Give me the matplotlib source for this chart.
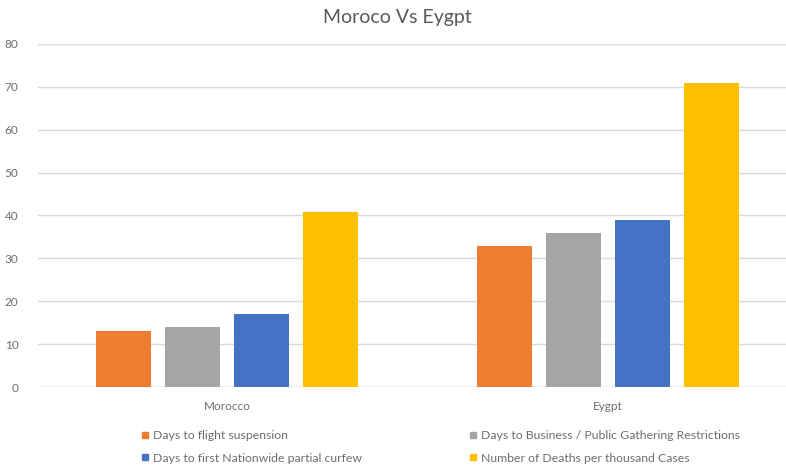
import matplotlib
matplotlib.use("Agg")
import matplotlib.pyplot as plt
from matplotlib.lines import Line2D
import numpy as np

plt.rcParams['font.family'] = ['Lato', 'DejaVu Sans']

countries = ["Morocco", "Eygpt"]
series_names = [
    "Days to flight suspension",
    "Days to Business / Public Gathering Restrictions",
    "Days to first Nationwide partial curfew",
    "Number of Deaths per thousand Cases",
]
flight_suspension = [13, 33]
business_restrictions = [14, 36]
partial_curfew = [17, 39]
deaths_per_thousand = [40.7, 71]
colors = ["#ED7D31", "#A5A5A5", "#4472C4", "#FFC000"]
y_ticks = [0, 10, 20, 30, 40, 50, 60, 70, 80]

series = [flight_suspension, business_restrictions, partial_curfew, deaths_per_thousand]

fig = plt.figure(figsize=(7.86, 4.70), dpi=100)
ax = fig.add_axes([38 / 786, 83 / 470, 748 / 786, 343 / 470])

x = np.arange(len(countries))
bar_w = 0.144
step = 0.181
offsets = (np.arange(4) - 1.5) * step
for vals, off, col in zip(series, offsets, colors):
    ax.bar(x + off, vals, width=bar_w, color=col, zorder=3)

ax.set_xlim(-0.496, 1.467)
ax.set_ylim(0, 80)
ax.set_yticks(y_ticks)
ax.yaxis.grid(True, color="#D9D9D9", linewidth=1.0, zorder=0)
ax.set_axisbelow(True)
for s in ax.spines.values():
    s.set_visible(False)
ax.axhline(0, color="#D0D0D0", linewidth=1.0, zorder=1)
ax.set_xticks(x)
ax.set_xticklabels(countries)
ax.tick_params(axis="both", length=0, labelsize=8.5, labelcolor="#6E6E6E")
ax.tick_params(axis="x", pad=10)
ax.tick_params(axis="y", pad=14)

fig.text(397 / 786, 1 - 18 / 470, "Moroco Vs Eygpt", ha="center", va="center",
         fontsize=14, color="#595959")

def handle(col):
    return Line2D([], [], marker="s", linestyle="none", markersize=5,
                  markerfacecolor=col, markeredgecolor=col)

leg_kw = dict(frameon=False, fontsize=8.8, labelcolor="#6E6E6E", handlelength=0.7,
              handletextpad=0.3, labelspacing=0.95, borderpad=0, borderaxespad=0)
fig.legend([handle(colors[0]), handle(colors[2])], [series_names[0], series_names[2]],
           loc="upper left", bbox_to_anchor=(141 / 786, 1 - 430 / 470), **leg_kw)
fig.legend([handle(colors[1]), handle(colors[3])], [series_names[1], series_names[3]],
           loc="upper left", bbox_to_anchor=(469 / 786, 1 - 430 / 470), **leg_kw)

fig.savefig("out.png", dpi=100, facecolor="white")
